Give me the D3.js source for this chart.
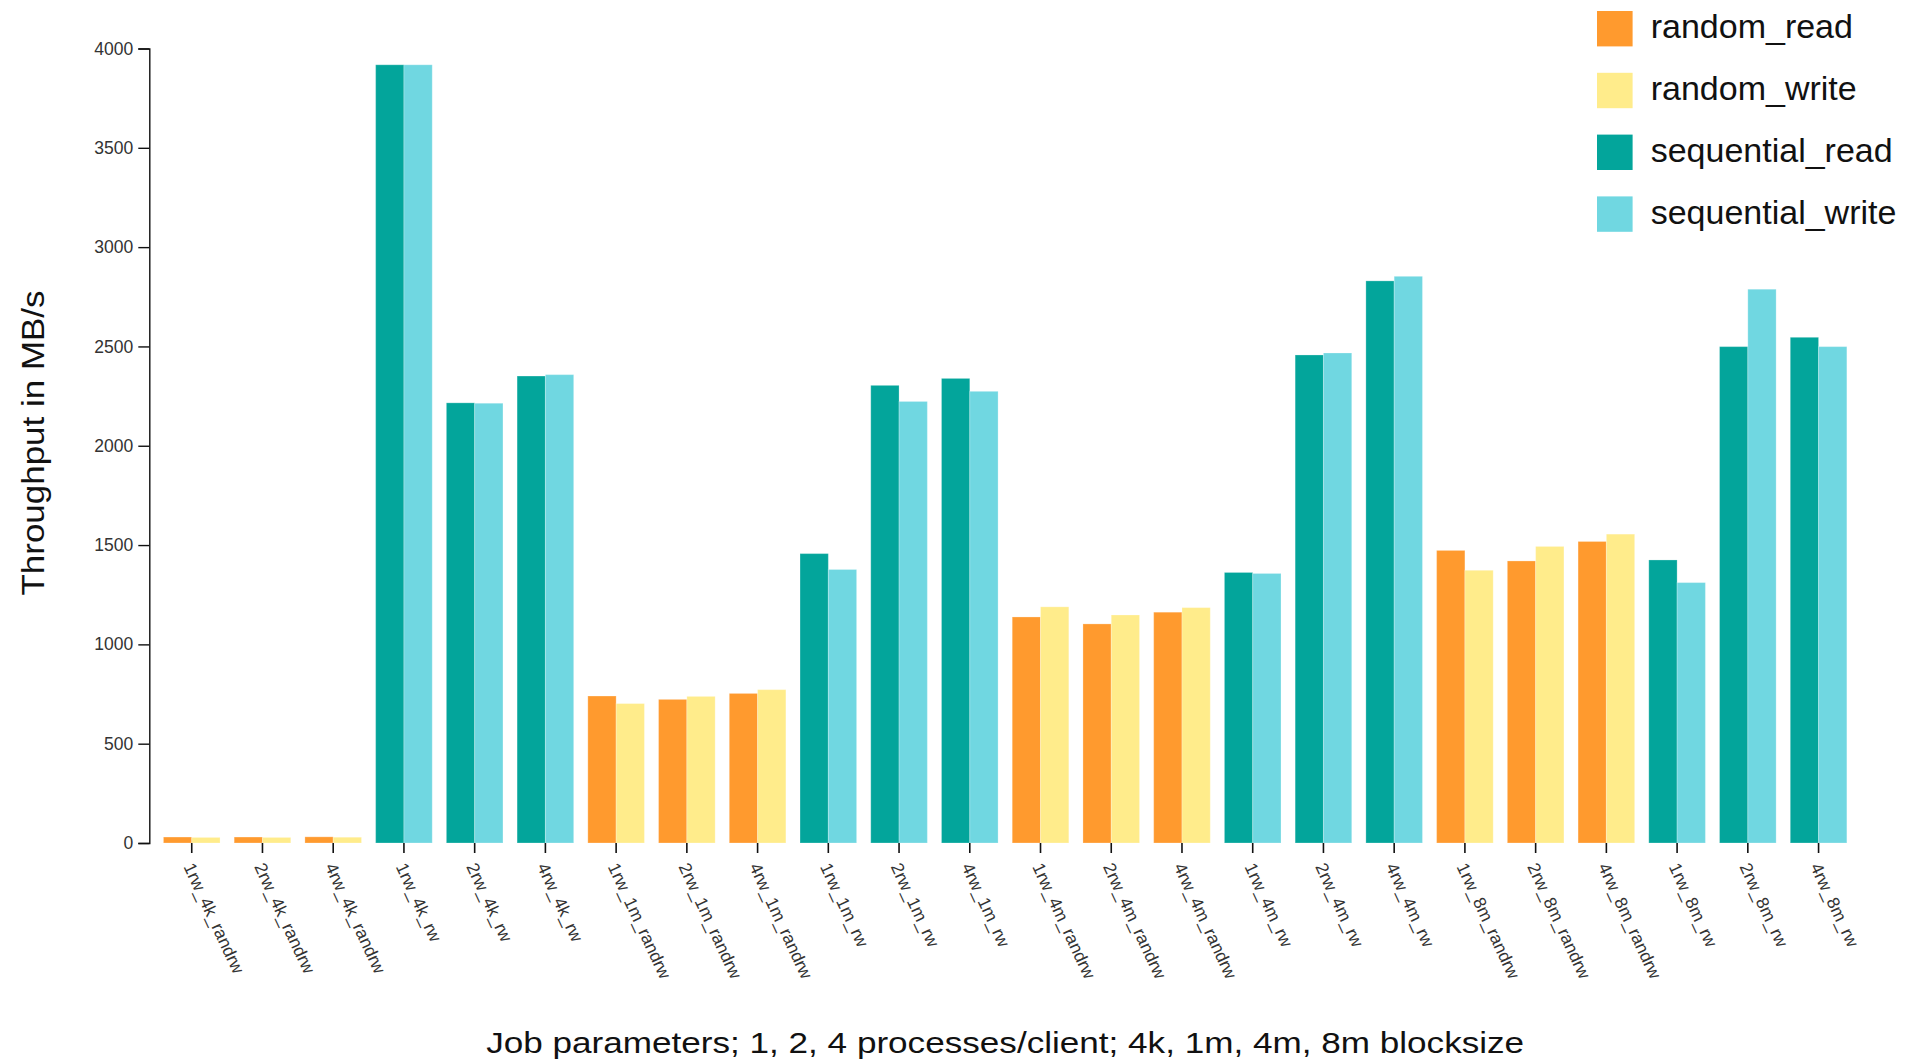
<!DOCTYPE html>
<html>
<head>
<meta charset="utf-8">
<script src="https://cdn.jsdelivr.net/npm/d3@7"></script>
<style>
  html, body { margin: 0; padding: 0; background: #fff; }
  svg { display: block; font-family: "Liberation Sans", Arial, Helvetica, sans-serif; }
</style>
</head>
<body>
<svg id="chart" width="1906" height="1061"></svg>
<script>
const categories = [
  "1rw_4k_randrw","2rw_4k_randrw","4rw_4k_randrw",
  "1rw_4k_rw","2rw_4k_rw","4rw_4k_rw",
  "1rw_1m_randrw","2rw_1m_randrw","4rw_1m_randrw",
  "1rw_1m_rw","2rw_1m_rw","4rw_1m_rw",
  "1rw_4m_randrw","2rw_4m_randrw","4rw_4m_randrw",
  "1rw_4m_rw","2rw_4m_rw","4rw_4m_rw",
  "1rw_8m_randrw","2rw_8m_randrw","4rw_8m_randrw",
  "1rw_8m_rw","2rw_8m_rw","4rw_8m_rw"
];
const seriesNames = ["random_read","random_write","sequential_read","sequential_write"];
const seriesColors = ["#ff9a2e","#ffec8b","#03a59b","#70d7e1"];

const random_read = [30,30,31, null,null,null, 740,723,753, null,null,null, 1138,1103,1162, null,null,null, 1473,1420,1518, null,null,null];
const random_write = [28,28,29, null,null,null, 702,738,772, null,null,null, 1189,1148,1185, null,null,null, 1373,1493,1555, null,null,null];
const sequential_read = [null,null,null, 3918,2216,2351, null,null,null, 1457,2304,2339, null,null,null, 1362,2457,2830, null,null,null, 1425,2499,2546];
const sequential_write = [null,null,null, 3918,2214,2358, null,null,null, 1377,2223,2274, null,null,null, 1357,2467,2853, null,null,null, 1311,2788,2499];

const yTicks = [0,500,1000,1500,2000,2500,3000,3500,4000];
const yTitle = "Throughput in MB/s";
const xTitle = "Job parameters; 1, 2, 4 processes/client; 4k, 1m, 4m, 8m blocksize";

const seriesValues = [random_read, random_write, sequential_read, sequential_write];
const slot = ["read","write","read","write"];

const svg = d3.select("#chart");
const x0 = 149.3, x1 = 1861, yBottom = 843, yTop = 48.5;

const x = d3.scaleBand().domain(categories).range([x0, x1]).paddingInner(0.2).paddingOuter(0.2);
const xs = d3.scaleBand().domain(["read","write"]).range([0, x.bandwidth()]).padding(0);
const y = d3.scaleLinear().domain([0, 4000]).range([yBottom, yTop]);

// bars
const bars = [];
seriesValues.forEach((vals, si) => {
  vals.forEach((v, ci) => {
    if (v != null) bars.push({cat: categories[ci], v, si});
  });
});
svg.append("g").selectAll("rect").data(bars).join("rect")
  .attr("x", d => x(d.cat) + xs(slot[d.si]))
  .attr("y", d => y(d.v))
  .attr("width", xs.bandwidth())
  .attr("height", d => y(0) - y(d.v))
  .attr("fill", d => seriesColors[d.si])
  .attr("stroke", "#ffffff")
  .attr("stroke-opacity", 0.25)
  .attr("stroke-width", 1);

// y axis
const yAxis = svg.append("g").attr("transform", `translate(${x0},0)`)
  .call(d3.axisLeft(y).tickValues(yTicks).tickFormat(d3.format("d")).tickSize(11).tickPadding(5));
yAxis.selectAll("path, line").attr("stroke", "#111").attr("stroke-width", 1.4);
yAxis.selectAll("text").attr("font-size", 17.5).attr("fill", "#333").attr("font-family", "Liberation Sans, Arial, sans-serif");

// x axis
const xAxis = svg.append("g").attr("transform", `translate(0,${yBottom})`)
  .call(d3.axisBottom(x).tickSize(10).tickPadding(0));
xAxis.select(".domain").remove();
xAxis.selectAll("line").attr("stroke", "#111").attr("stroke-width", 1.6);
xAxis.selectAll("text")
  .attr("x", 0).attr("y", 0).attr("dy", "0.35em")
  .attr("text-anchor", "start")
  .attr("transform", "translate(-3,21) rotate(65)")
  .attr("font-size", 17.5).attr("fill", "#333")
  .attr("font-family", "Liberation Sans, Arial, sans-serif");

// titles
svg.append("text")
  .attr("transform", `translate(43.5,443) rotate(-90)`)
  .attr("text-anchor", "middle")
  .attr("font-size", 32)
  .attr("textLength", 305).attr("lengthAdjust", "spacingAndGlyphs")
  .attr("fill", "#111")
  .text(yTitle);

svg.append("text")
  .attr("x", (x0 + x1) / 2).attr("y", 1053)
  .attr("text-anchor", "middle")
  .attr("font-size", 30)
  .attr("textLength", 1038).attr("lengthAdjust", "spacingAndGlyphs")
  .attr("fill", "#111")
  .text(xTitle);

// legend
const legend = svg.append("g").attr("transform", "translate(1597,11)");
const li = legend.selectAll("g").data(seriesNames).join("g")
  .attr("transform", (d, i) => `translate(0,${i * 61.8})`);
li.append("rect").attr("width", 35.6).attr("height", 35.4)
  .attr("fill", (d, i) => seriesColors[i]);
li.append("text").attr("x", 53.7).attr("y", 15).attr("dy", "0.36em")
  .attr("font-size", 34).attr("fill", "#111").text(d => d);
</script>
</body>
</html>
